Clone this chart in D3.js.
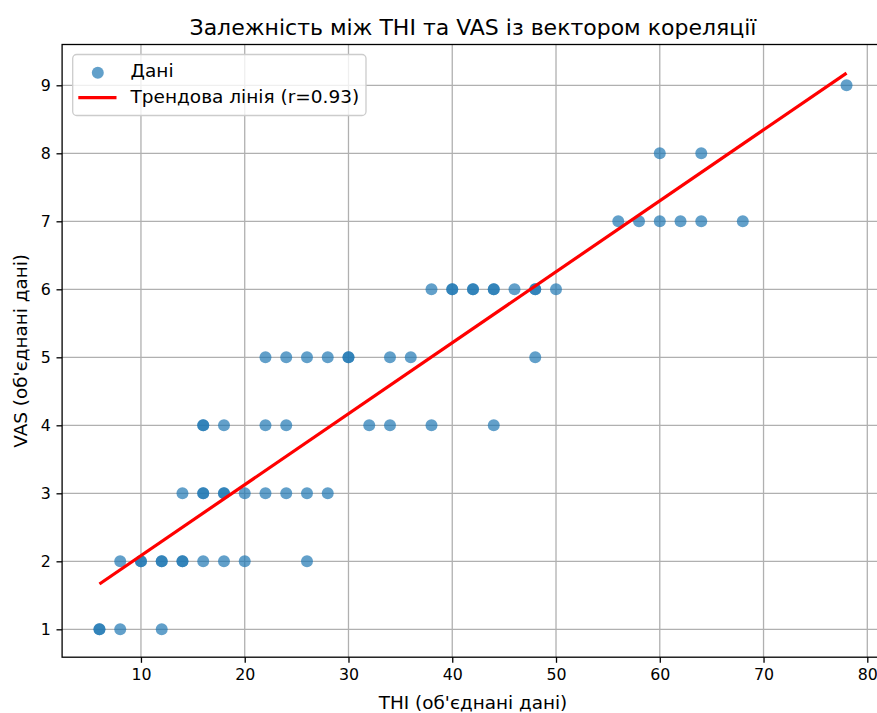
<!DOCTYPE html>
<html>
<head>
<meta charset="utf-8">
<script src="https://cdn.jsdelivr.net/npm/d3@7"></script>
<style>
  html, body { margin: 0; padding: 0; background: #ffffff; }
  svg { display: block; font-family: "DejaVu Sans", sans-serif; }
</style>
</head>
<body>
<svg id="chart" width="877" height="713"></svg>
<script>
// ---- data ----
const thiValues = [
  6, 6, 8, 12,
  8, 10, 10, 12, 12, 14, 14, 16, 18, 20, 26,
  14, 16, 16, 18, 18, 20, 22, 24, 26, 28,
  16, 16, 18, 22, 24, 32, 34, 38, 44,
  22, 24, 26, 28, 30, 30, 34, 36, 48,
  38, 40, 40, 42, 42, 44, 44, 46, 48, 48, 50,
  56, 58, 60, 62, 64, 68,
  60, 64,
  78
];
const vasValues = [
  1, 1, 1, 1,
  2, 2, 2, 2, 2, 2, 2, 2, 2, 2, 2,
  3, 3, 3, 3, 3, 3, 3, 3, 3, 3,
  4, 4, 4, 4, 4, 4, 4, 4, 4,
  5, 5, 5, 5, 5, 5, 5, 5, 5,
  6, 6, 6, 6, 6, 6, 6, 6, 6, 6, 6,
  7, 7, 7, 7, 7, 7,
  8, 8,
  9
];
const trendX = [6, 78];
const trendY = [1.666, 9.18];
const xTicks = [10, 20, 30, 40, 50, 60, 70, 80];
const yTicks = [1, 2, 3, 4, 5, 6, 7, 8, 9];
const titleText = "Залежність між THI та VAS із вектором кореляції";
const xLabelText = "THI (об'єднані дані)";
const yLabelText = "VAS (об'єднані дані)";
const legendLabels = ["Дані", "Трендова лінія (r=0.93)"];

// ---- layout ----
const svg = d3.select("#chart");
const x = d3.scaleLinear().domain([2.4, 81.6]).range([62.1, 883.9]);
const y = d3.scaleLinear().domain([0.59, 9.6]).range([657.2, 44.5]);
const pLeft = x.range()[0], pRight = x.range()[1];
const pTop = y.range()[1], pBottom = y.range()[0];
const blue = "#1f77b4";

// grid
const grid = svg.append("g");
grid.selectAll(".vg").data(xTicks).enter().append("line")
  .attr("x1", d => x(d)).attr("x2", d => x(d))
  .attr("y1", pTop).attr("y2", pBottom)
  .attr("stroke", "#b0b0b0").attr("stroke-width", 1.3);
grid.selectAll(".hg").data(yTicks).enter().append("line")
  .attr("x1", pLeft).attr("x2", pRight)
  .attr("y1", d => y(d)).attr("y2", d => y(d))
  .attr("stroke", "#b0b0b0").attr("stroke-width", 1.3);

// scatter points
const pts = thiValues.map((v, i) => ({ x: v, y: vasValues[i] }));
svg.append("g").selectAll("circle").data(pts).enter().append("circle")
  .attr("cx", d => x(d.x)).attr("cy", d => y(d.y))
  .attr("r", 6)
  .attr("fill", blue).attr("fill-opacity", 0.7);

// trend line
const trend = trendX.map((v, i) => [v, trendY[i]]);
svg.append("path")
  .attr("d", d3.line().x(d => x(d[0])).y(d => y(d[1]))(trend))
  .attr("fill", "none").attr("stroke", "#ff0000").attr("stroke-width", 3.2);

// axes
const xAxis = d3.axisBottom(x).tickValues(xTicks).tickSize(5.6).tickPadding(5.6).tickFormat(d3.format("d"));
const yAxis = d3.axisLeft(y).tickValues(yTicks).tickSize(5.6).tickPadding(5.6).tickFormat(d3.format("d"));
const gx = svg.append("g").attr("transform", `translate(0,${pBottom})`).call(xAxis);
const gy = svg.append("g").attr("transform", `translate(${pLeft},0)`).call(yAxis);
[gx, gy].forEach(g => {
  g.select(".domain").remove();
  g.selectAll(".tick line").attr("stroke", "#000").attr("stroke-width", 1.3);
  g.selectAll(".tick text").attr("fill", "#000").style("font-size", "15.8px")
    .style("font-family", "DejaVu Sans");
});

// spines
svg.append("rect")
  .attr("x", pLeft).attr("y", pTop)
  .attr("width", pRight - pLeft).attr("height", pBottom - pTop)
  .attr("fill", "none").attr("stroke", "#000").attr("stroke-width", 1.3);

// title and labels
svg.append("text").attr("x", (pLeft + pRight) / 2).attr("y", 34.5)
  .attr("text-anchor", "middle").style("font-size", "22px").attr("fill", "#000")
  .text(titleText);
svg.append("text").attr("x", (pLeft + pRight) / 2).attr("y", 709)
  .attr("text-anchor", "middle").style("font-size", "18.4px").attr("fill", "#000")
  .text(xLabelText);
svg.append("text")
  .attr("transform", `translate(27,${(pTop + pBottom) / 2}) rotate(-90)`)
  .attr("text-anchor", "middle").style("font-size", "18.4px").attr("fill", "#000")
  .text(yLabelText);

// legend
const lg = svg.append("g");
lg.append("rect").attr("x", 72.7).attr("y", 54.5).attr("width", 293.3).attr("height", 61)
  .attr("rx", 4).attr("fill", "#fff").attr("fill-opacity", 0.8)
  .attr("stroke", "#cccccc").attr("stroke-width", 1.3);
lg.append("circle").attr("cx", 97.8).attr("cy", 72.7).attr("r", 6)
  .attr("fill", blue).attr("fill-opacity", 0.7);
lg.append("line").attr("x1", 78.3).attr("x2", 116.5).attr("y1", 97.7).attr("y2", 97.7)
  .attr("stroke", "#ff0000").attr("stroke-width", 3.2);
lg.selectAll("text.leg").data(legendLabels).enter().append("text")
  .attr("x", 130.5).attr("y", (d, i) => 76.5 + i * 26.5)
  .style("font-size", "18.5px").attr("fill", "#000")
  .text(d => d);
</script>
</body>
</html>
